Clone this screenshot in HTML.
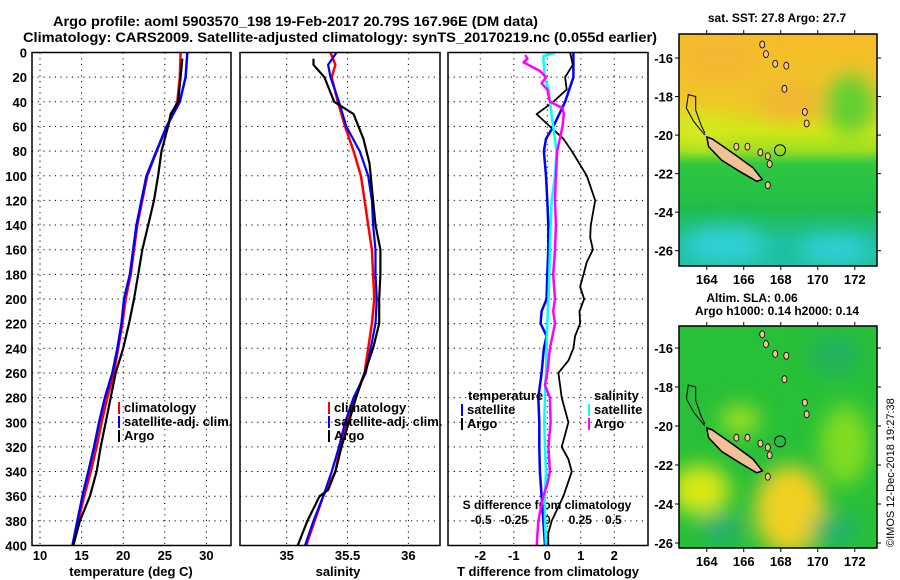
<!DOCTYPE html>
<html><head><meta charset="utf-8"><style>
body{margin:0;background:#fff}
svg{display:block;font-family:"Liberation Sans",sans-serif;font-weight:bold}
</style></head><body>
<svg id="chart" width="900" height="580" viewBox="0 0 900 580" xmlns="http://www.w3.org/2000/svg">
<defs>
<linearGradient id="sstg" x1="0" y1="0" x2="0" y2="1">
<stop offset="0" stop-color="#f6bc28"/><stop offset="0.3" stop-color="#f0c828"/><stop offset="0.42" stop-color="#d0e818"/><stop offset="0.5" stop-color="#a0e020"/><stop offset="0.56" stop-color="#30c840"/><stop offset="0.75" stop-color="#20bc48"/><stop offset="0.9" stop-color="#20c0a0"/><stop offset="1" stop-color="#20c0a0"/>
</linearGradient>
<filter id="blur"><feGaussianBlur stdDeviation="10"/></filter>
<clipPath id="c1"><rect x="679" y="34" width="198" height="232"/></clipPath>
<clipPath id="c2"><rect x="679" y="326" width="198" height="222"/></clipPath>
</defs>
<text x="53" y="26" font-size="14" textLength="485" lengthAdjust="spacingAndGlyphs">Argo profile: aoml 5903570_198 19-Feb-2017 20.79S 167.96E (DM data)</text>
<text x="23" y="42" font-size="14" textLength="634" lengthAdjust="spacingAndGlyphs">Climatology: CARS2009. Satellite-adjusted climatology: synTS_20170219.nc (0.055d earlier)</text>
<g id="panels"></g>
<g>
<text x="777" y="22" font-size="12" text-anchor="middle">sat. SST: 27.8 Argo: 27.7</text>
<g clip-path="url(#c1)">
<rect x="679" y="34" width="198" height="232" fill="url(#sstg)"/>
<g filter="url(#blur)">
<ellipse cx="720" cy="60" rx="40" ry="25" fill="#f4b830"/>
<ellipse cx="790" cy="100" rx="35" ry="20" fill="#f0b830"/>
<ellipse cx="850" cy="105" rx="25" ry="30" fill="#60d030"/>
<ellipse cx="700" cy="130" rx="25" ry="15" fill="#d8e820"/>
<ellipse cx="725" cy="245" rx="40" ry="18" fill="#30d0d8"/>
<ellipse cx="835" cy="250" rx="35" ry="14" fill="#30d0d8"/>
</g>
</g>
<rect x="679" y="34" width="198" height="232" fill="none" stroke="#000" stroke-width="1.5"/>
</g>
<g>
<text x="752" y="302" font-size="12" text-anchor="middle">Altim. SLA: 0.06</text>
<text x="777" y="315" font-size="12" text-anchor="middle">Argo h1000: 0.14 h2000: 0.14</text>
<g clip-path="url(#c2)">
<rect x="679" y="326" width="198" height="222" fill="#28c038"/>
<g filter="url(#blur)">
<ellipse cx="740" cy="420" rx="20" ry="15" fill="#a0e020"/>
<ellipse cx="700" cy="490" rx="30" ry="25" fill="#d8e818"/>
<ellipse cx="790" cy="510" rx="35" ry="45" fill="#f0d020"/>
<ellipse cx="845" cy="445" rx="25" ry="40" fill="#80dc20"/>
<ellipse cx="722" cy="530" rx="22" ry="15" fill="#20b070"/>
<ellipse cx="835" cy="530" rx="25" ry="15" fill="#20b070"/>
<ellipse cx="835" cy="355" rx="25" ry="20" fill="#20b060"/>
</g>
</g>
<rect x="679" y="326" width="198" height="222" fill="none" stroke="#000" stroke-width="1.5"/>
</g>
<g id="maplab"></g>
<text transform="translate(894,547) rotate(-90)" font-size="11" font-weight="normal">©IMOS 12-Dec-2018 19:27:38</text>
</svg>
<script>
const tDepthClim=[0,20,40,60,80,100,120,140,160,180,200,220,240,260,280,300,320,340,360,380,400];
const tClim=[26.9,26.8,26.5,25.3,24.0,22.9,22.3,21.7,21.3,20.9,20.3,19.9,19.4,18.9,18.1,17.4,16.8,16.1,15.3,14.6,14.0];
const tSat=[27.7,27.5,26.8,25.2,24.0,22.8,22.2,21.6,21.2,20.8,20.1,19.8,19.3,18.7,17.8,17.1,16.5,15.8,15.1,14.5,13.9];
const tDepthArgo=[5,20,40,50,60,80,100,120,140,160,180,200,220,240,260,280,300,320,340,360,380,400];
const tArgo=[27.1,26.9,26.6,25.7,25.4,24.6,24.2,23.7,23.0,22.3,21.8,21.3,20.7,20.0,19.1,18.5,17.9,17.3,16.8,16.0,14.8,14.0];
const sDepthClim=[0,10,20,40,60,80,100,120,140,160,180,200,220,240,260,280,300,320,340,360,380,400];
const sClim=[35.36,35.40,35.37,35.42,35.48,35.55,35.61,35.64,35.67,35.70,35.71,35.72,35.70,35.67,35.64,35.56,35.49,35.44,35.40,35.30,35.23,35.16];
const sSat=[35.41,35.34,35.36,35.43,35.49,35.60,35.67,35.70,35.71,35.73,35.73,35.74,35.73,35.69,35.65,35.55,35.48,35.43,35.37,35.30,35.22,35.15];
const sDepthArgo=[5,10,20,30,40,50,70,90,110,140,160,180,200,220,240,260,280,300,320,340,355,360,380,400];
const sArgo=[35.22,35.22,35.31,35.35,35.39,35.55,35.63,35.68,35.70,35.73,35.77,35.77,35.76,35.76,35.71,35.64,35.57,35.51,35.45,35.40,35.34,35.27,35.17,35.09];
const dDepthT=[0,20,40,60,70,80,100,120,140,160,180,200,210,220,230,240,260,280,300,320,340,360,380,400];
const dTSat=[0.78,0.78,0.53,0.18,-0.04,-0.1,-0.04,0,0.03,0.03,0,-0.02,-0.17,-0.2,-0.02,-0.1,-0.17,-0.27,-0.24,-0.24,-0.22,-0.17,-0.12,-0.07];
const dDepthTA=[0,10,20,30,40,50,60,70,80,100,120,140,150,160,170,180,190,200,210,220,230,240,250,260,280,300,310,320,330,340,360,380,390,400];
const dTArgo=[0.68,0.76,0.53,0.58,0.18,-0.32,0.08,0.48,0.73,1.18,1.43,1.3,1.28,1.36,1.18,1.08,0.98,1.1,0.96,0.98,0.83,0.78,0.63,0.33,0.43,0.63,0.53,0.43,0.63,0.73,0.48,0.13,0.03,0.03];
const dDepthS=[0,3,20,30,40,60,80,100,120,140,160,180,200,220,240,260,280,300,320,340,360,380,400];
const dSSat=[0.06,-0.03,-0.02,0.01,0.02,0.045,0.07,0.058,0.033,0.025,0.02,0.015,0.008,0,-0.005,-0.01,-0.018,-0.023,-0.018,-0.01,-0.018,-0.018,-0.01];
const dDepthSA=[2,5,8,15,20,25,30,40,45,50,60,70,80,100,120,140,160,180,200,210,220,240,260,270,280,300,320,340,350,360,380,400];
const dSArgo=[-0.168,-0.15,-0.18,-0.055,-0.01,-0.043,0,0.02,0.115,0.125,0.115,0.095,0.075,0.065,0.058,0.065,0.058,0.045,0.058,0.045,0.058,0.02,0,-0.018,0.02,0.025,0.008,0.02,0,-0.03,-0.068,-0.08];
const depthTicks=[0,20,40,60,80,100,120,140,160,180,200,220,240,260,280,300,320,340,360,380,400];
const tTicks=[10,15,20,25,30];
const sTicks=[35,35.5,36];
const dtTicks=[-2,-1,0,1,2];
const dsTicks=[-0.5,-0.25,0,0.25,0.5];
const latTicks=[-16,-18,-20,-22,-24,-26];
const lonTicks=[164,166,168,170,172];

const NS='http://www.w3.org/2000/svg';
const root=document.getElementById('panels');
const Y0=52.5,Y1=545.5;
const yD=d=>Y0+d*(Y1-Y0)/400;
const xT=t=>40+(t-10)*8.32;
const xS=s=>286.7+(s-35)*121.7;
const xDT=v=>547.3+v*33.5;
const xDS=v=>547.3+v*132;
function el(tag,attrs,parent){const e=document.createElementNS(NS,tag);for(const k in attrs)e.setAttribute(k,attrs[k]);(parent||root).appendChild(e);return e;}
function txt(x,y,s,anchor,size,parent){const e=el('text',{x:x,y:y,'font-size':size||12,'text-anchor':anchor||'middle'},parent);e.textContent=s;return e;}
const panels=[[32,231],[240,440],[448,648]];
panels.forEach((p,i)=>{
  const g=el('g',{});
  
  
  depthTicks.forEach(d=>{
    const l=el('line',{x1:p[0],x2:p[1],y1:yD(d),y2:yD(d),stroke:'#000','stroke-dasharray':'1.2,4.5','stroke-width':1},g);
    
    
  });
});
function vgrid(vals,fx){vals.forEach(v=>{const l=el('line',{x1:fx(v),x2:fx(v),y1:Y0,y2:Y1,stroke:'#000','stroke-dasharray':'1.2,4.5'});
  
  });}
vgrid(tTicks,xT);vgrid(sTicks,xS);vgrid(dtTicks,xDT);
depthTicks.forEach(d=>{const t=txt(27,yD(d)+5,String(d),'end',13);
  
  });
tTicks.forEach(v=>{const t=txt(xT(v),560,String(v),'middle',13);
  
  });
sTicks.forEach(v=>{const t=txt(xS(v),560,String(v),'middle',13);
  
  });
dtTicks.forEach(v=>{const t=txt(xDT(v),560,String(v),'middle',13);
  
  });
dsTicks.forEach(v=>{const t=txt(xDS(v),524,String(v),'middle',12);
  
  });
const a1=txt(131,576,'temperature (deg C)','middle',13);


const a2=txt(338,576,'salinity','middle',13);


const a3=txt(548,576,'T difference from climatology','middle',13);


const a4=txt(547,509,'S difference from climatology','middle',12);


function line(xs,ds,fx,color,w,name){
  const pts=xs.map((v,i)=>fx(v).toFixed(1)+','+yD(ds[i]).toFixed(1)).join(' ');
  const l=el('polyline',{points:pts,fill:'none',stroke:color,'stroke-width':w||2.2,'stroke-linejoin':'round'});
  
  
}
line(tClim,tDepthClim,xT,'#f00',2.5,'temp-climatology-line');
line(tSat,tDepthClim,xT,'#00f',2.5,'temp-satellite-line');
line(tArgo,tDepthArgo,xT,'#000',2.2,'temp-argo-line');
line(sClim,sDepthClim,xS,'#f00',2.5,'sal-climatology-line');
line(sSat,sDepthClim,xS,'#00f',2.2,'sal-satellite-line');
line(sArgo,sDepthArgo,xS,'#000',2.2,'sal-argo-line');
line(dTSat,dDepthT,xDT,'#00f',2.5,'tdiff-satellite-line');
line(dTArgo,dDepthTA,xDT,'#000',1.8,'tdiff-argo-line');
line(dSSat,dDepthS,xDS,'#0ff',2.5,'sdiff-satellite-line');
line(dSArgo,dDepthSA,xDS,'#f0f',2.5,'sdiff-argo-line');
panels.forEach(p=>{const r=el('rect',{x:p[0],y:Y0,width:p[1]-p[0],height:Y1-Y0,fill:'none',stroke:'#000','stroke-width':1.5});
  
  });
function legend(x,y,items){items.forEach((it,i)=>{
  const yy=y+i*14;
  const m=el('rect',{x:x,y:yy-10,width:2,height:12,fill:it[1]});
  
  
  const t=txt(x+6,yy,it[0],'start',13);
  
  });}
legend(118,412,[['climatology','#f00'],['satellite-adj. clim.','#00f'],['Argo','#000']]);
legend(328,412,[['climatology','#f00'],['satellite-adj. clim.','#00f'],['Argo','#000']]);
const lt=txt(468,400,'temperature','start',13);


legend(461,414,[['satellite','#00f'],['Argo','#000']]);
const ls=txt(594,400,'salinity','start',13);


legend(588,414,[['satellite','#0ff'],['Argo','#f0f']]);

const ml=document.getElementById('maplab');
const mainIsland=[[164.0,-20.1],[164.3,-20.2],[165.5,-21.0],[166.5,-21.7],[167.0,-22.3],[166.7,-22.4],[165.8,-21.9],[164.8,-21.3],[164.1,-20.6]];
const lagoon=[[163.9,-20.0],[163.3,-19.3],[162.9,-18.6],[163.0,-17.9],[163.4,-18.0],[163.4,-18.7],[163.7,-19.5],[163.9,-19.9]];
const smallIslands=[[167.0,-15.3],[167.2,-15.8],[167.7,-16.3],[168.3,-16.4],[168.2,-17.6],[169.3,-18.8],[169.4,-19.4],[166.9,-20.9],[167.3,-21.1],[167.4,-21.5],[167.3,-22.6],[165.6,-20.6],[166.2,-20.6]];
const argoPos=[167.96,-20.79];
function mapAxes(left,right,top,bot,latY16,pxLat){
  const fy=l=>latY16+(-16-l)*pxLat;
  const fx=l=>left+(l-162.5)*18.5;
  latTicks.forEach(l=>{el('line',{x1:left-4,x2:left,y1:fy(l),y2:fy(l),stroke:'#000'},ml);
    el('line',{x1:right,x2:right+4,y1:fy(l),y2:fy(l),stroke:'#000'},ml);
    const t=txt(left-6,fy(l)+5,String(l),'end',13,ml);
    
    });
  lonTicks.forEach(l=>{el('line',{x1:fx(l),x2:fx(l),y1:bot,y2:bot+4,stroke:'#000'},ml);
    el('line',{x1:fx(l),x2:fx(l),y1:top-4,y2:top,stroke:'#000'},ml);
    const t=txt(fx(l),bot+18,String(l),'middle',13,ml);
    
    });
  const P=a=>a.map(p=>fx(p[0]).toFixed(1)+','+fy(p[1]).toFixed(1)).join(' ');
  const isl=el('polygon',{points:P(mainIsland),fill:'#f4c098',stroke:'#000','stroke-width':1.5},ml);
  
  
  el('polyline',{points:P(lagoon),fill:'none',stroke:'#000'},ml);
  smallIslands.forEach(p=>{
    const e=el('ellipse',{cx:fx(p[0]),cy:fy(p[1]),rx:2.5,ry:3.5,fill:'#f4c098',stroke:'#000','stroke-width':0.8},ml);
    
    });
  const c=el('circle',{cx:fx(argoPos[0]),cy:fy(argoPos[1]),r:5.5,fill:'none',stroke:'#000'},ml);
  
  
}
mapAxes(679,877,34,266,58,19.27);
mapAxes(679,877,326,548,348,19.5);
</script>
</body></html>
